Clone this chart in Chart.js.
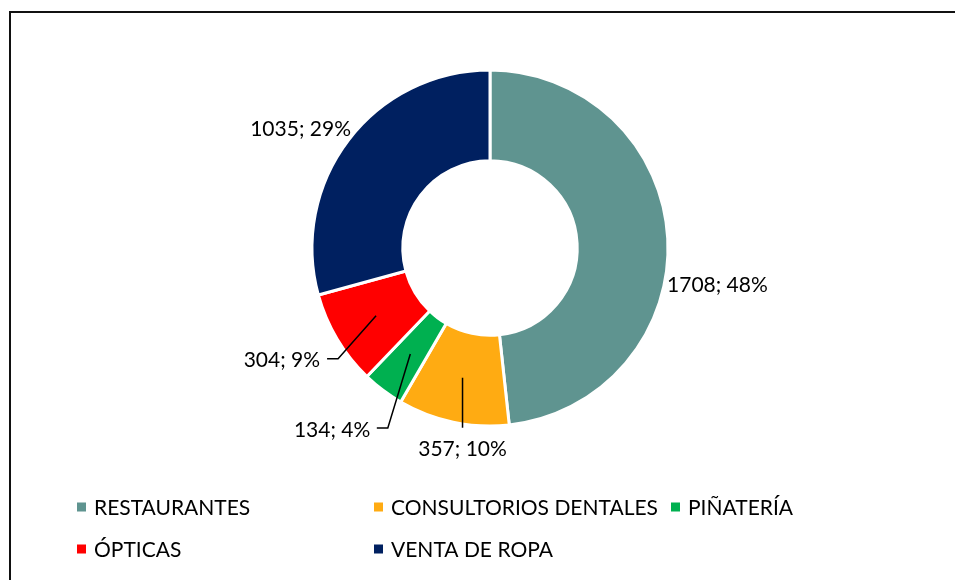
<!DOCTYPE html>
<html>
<head>
<meta charset="utf-8">
<script src="https://cdn.jsdelivr.net/npm/chart.js@4"></script>
<style>
  html, body { margin: 0; padding: 0; background: #fff; overflow: hidden; }
  #wrap { position: relative; width: 955px; height: 580px; }
  #frame { position: absolute; left: 9px; top: 11px; width: 1000px; height: 700px; border: 2px solid #111; box-sizing: border-box; pointer-events: none; }
  canvas { position: absolute; left: 0; top: 0; }
</style>
</head>
<body>
<div id="wrap">
  <canvas id="c" width="955" height="580"></canvas>
  <div id="frame"></div>
</div>
<script>
const categories = ['RESTAURANTES', 'CONSULTORIOS DENTALES', 'PIÑATERÍA', 'ÓPTICAS', 'VENTA DE ROPA'];
const values = [1708, 357, 134, 304, 1035];
const colors = ['#5F9490', '#FFAB12', '#00B050', '#FF0000', '#002060'];

const FONT = '21px Lato, "Open Sans", sans-serif';

// label placement relative to each slice's mid-ring centroid
const labelLayout = [
  { dx: 95, dy: 44, align: 'center', leader: null },
  { dx: 0, dy: 72, align: 'center', leader: [[0, 50]] },
  { dx: -40, dy: 76, align: 'right', leader: [[-22.5, 74], [-33.5, 74]] },
  { dx: -56, dy: 44, align: 'right', leader: [[-38, 43], [-49, 43]] },
  { dx: -84, dy: -38, align: 'center', leader: null }
];

const legendLayout = { cols: [77, 374, 671], rows: [507, 549], box: 9, gap: 8 };

const labelPlugin = {
  id: 'sliceLabels',
  afterDatasetsDraw(chart) {
    const ctx = chart.ctx;
    const meta = chart.getDatasetMeta(0);
    const total = values.reduce((a, b) => a + b, 0);
    ctx.save();
    ctx.font = FONT;
    ctx.fillStyle = '#000';
    ctx.strokeStyle = '#000';
    ctx.lineWidth = 1.5;
    ctx.textBaseline = 'middle';
    meta.data.forEach((arc, i) => {
      const p = arc.getProps(['x', 'y', 'startAngle', 'endAngle', 'innerRadius', 'outerRadius'], true);
      const mid = (p.startAngle + p.endAngle) / 2;
      const r = (p.innerRadius + p.outerRadius) / 2;
      const cx = p.x + Math.cos(mid) * r;
      const cy = p.y + Math.sin(mid) * r;
      const L = labelLayout[i];
      if (L.leader) {
        ctx.beginPath();
        ctx.moveTo(cx, cy);
        L.leader.forEach(pt => ctx.lineTo(cx + pt[0], cy + pt[1]));
        ctx.stroke();
      }
      const pct = Math.round(values[i] / total * 100);
      ctx.textAlign = L.align;
      ctx.fillText(values[i] + '; ' + pct + '%', cx + L.dx, cy + L.dy);
    });
    ctx.restore();
  }
};

const legendPlugin = {
  id: 'gridLegend',
  afterDraw(chart) {
    const ctx = chart.ctx;
    ctx.save();
    ctx.font = FONT;
    ctx.textBaseline = 'middle';
    ctx.textAlign = 'left';
    categories.forEach((cat, i) => {
      let row, col;
      if (i < 3) { row = 0; col = i; } else { row = 1; col = i - 3; }
      const x = legendLayout.cols[col];
      const y = legendLayout.rows[row];
      const b = legendLayout.box;
      ctx.fillStyle = colors[i];
      ctx.fillRect(x, y - b / 2, b, b);
      ctx.fillStyle = '#000';
      ctx.fillText(cat, x + b + legendLayout.gap, y + 1);
    });
    ctx.restore();
  }
};

new Chart(document.getElementById('c'), {
  type: 'doughnut',
  data: {
    labels: categories,
    datasets: [{
      data: values,
      backgroundColor: colors,
      borderColor: '#ffffff',
      borderWidth: 3,
      hoverOffset: 0
    }]
  },
  options: {
    responsive: false,
    animation: false,
    radius: 178,
    cutout: '49%',
    layout: { padding: { left: 25, right: 0, top: 0, bottom: 84 } },
    plugins: {
      legend: { display: false },
      tooltip: { enabled: false }
    }
  },
  plugins: [labelPlugin, legendPlugin]
});
</script>
</body>
</html>
